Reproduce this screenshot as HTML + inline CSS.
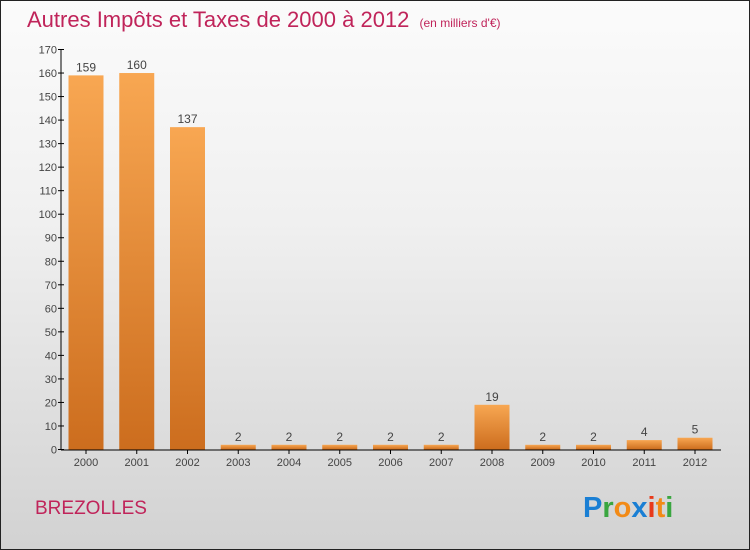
<!DOCTYPE html>
<html><head><meta charset="utf-8"><style>
body{margin:0;width:750px;height:550px;overflow:hidden;font-family:"Liberation Sans",sans-serif}
#bg{position:absolute;left:0;top:0;width:748px;height:548px;border:1px solid #222;background:linear-gradient(#fbfbfb,#f0f0f0 40%,#d2d2d2)}
</style></head><body>
<div id="bg"></div>
<svg width="750" height="550" style="position:absolute;left:0;top:0">
<defs><linearGradient id="g" x1="0" y1="0" x2="0" y2="1"><stop offset="0" stop-color="#f8a752"/><stop offset="1" stop-color="#cc6d1e"/></linearGradient></defs>
<text x="27" y="27" font-size="22" fill="#c0245a">Autres Impôts et Taxes de 2000 à 2012 <tspan font-size="12" dx="4">(en milliers d'€)</tspan></text>
<g id="yaxis"></g>
<g id="bars"></g>
<text x="35" y="514" font-size="19" fill="#c0245a">BREZOLLES</text>
<text x="583" y="517" font-size="29" font-weight="bold"><tspan fill="#1a7fd4">P</tspan><tspan fill="#3aa640">r</tspan><tspan fill="#f28a16">o</tspan><tspan fill="#1a7fd4">x</tspan><tspan fill="#e83a1a">i</tspan><tspan fill="#f28a16">t</tspan><tspan fill="#3aa640">i</tspan></text>
</svg>
<script>
const years=["2000","2001","2002","2003","2004","2005","2006","2007","2008","2009","2010","2011","2012"];
const values=[159,160,137,2,2,2,2,2,19,2,2,4,5];
const yTicks=[0,10,20,30,40,50,60,70,80,90,100,110,120,130,140,150,160,170];
const NS="http://www.w3.org/2000/svg";
const y=v=>449.5-v*400/170;
const x=i=>86+i*50.75;
function mk(t,a,p){const e=document.createElementNS(NS,t);for(const k in a)e.setAttribute(k,a[k]);p.appendChild(e);return e;}
const ya=document.getElementById('yaxis'),bs=document.getElementById('bars');
const al=mk('line',{x1:61,y1:49,x2:61,y2:450,stroke:'#000'},ya);


yTicks.forEach(v=>{
 const l=mk('line',{x1:58,x2:64,y1:y(v),y2:y(v),stroke:'#000'},ya);
 
 
 const t=mk('text',{x:57,y:y(v)+4,'text-anchor':'end','font-size':11,fill:'#444'},ya);
 t.textContent=v;
 
 
});
values.forEach((v,i)=>{
 const r=mk('rect',{x:x(i)-17.5,y:y(v),width:35,height:449.5-y(v),fill:'url(#g)'},bs);
 
 
 const t=mk('text',{x:x(i),y:y(v)-4,'text-anchor':'middle','font-size':12,fill:'#444'},bs);
 t.textContent=v;
 
 
 const tk=mk('line',{x1:x(i),x2:x(i),y1:450,y2:454,stroke:'#000'},bs);
 
 
 const xl=mk('text',{x:x(i),y:466,'text-anchor':'middle','font-size':11,fill:'#444'},bs);
 xl.textContent=years[i];
 
 
});
const xa=mk('line',{x1:61,y1:450,x2:721,y2:450,stroke:'#000'},bs);


</script>
</body></html>
